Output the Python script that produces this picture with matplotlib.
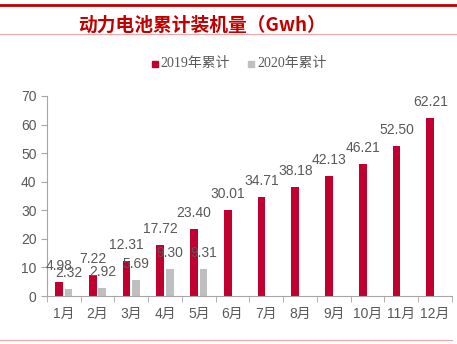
import matplotlib
matplotlib.use('Agg')
import matplotlib.pyplot as plt
import numpy as np

months = ['1月', '2月', '3月', '4月', '5月', '6月', '7月', '8月', '9月', '10月', '11月', '12月']
cum_2019 = [4.98, 7.22, 12.31, 17.72, 23.40, 30.01, 34.71, 38.18, 42.13, 46.21, 52.50, 62.21]
cum_2020 = [2.32, 2.92, 5.69, 9.30, 9.31]

red = '#C0002F'
grey = '#BFBFBF'
txt = '#595959'
cjk = ['Liberation Sans', 'Noto Sans CJK SC']

fig = plt.figure(figsize=(4.57, 3.44), dpi=100)
ax = fig.add_axes([0.1028, 0.1395, 0.886, 0.5815])

x = np.arange(len(months))
w = 0.23
gap = 0.05
b1 = ax.bar(x - (w + gap) / 2, cum_2019, w, color=red)
b2 = ax.bar(x[:len(cum_2020)] + (w + gap) / 2, cum_2020, w, color=grey)

for bars, vals in [(b1, cum_2019), (b2, cum_2020)]:
    for b, v in zip(bars, vals):
        ax.annotate('%.2f' % v, (b.get_x() + b.get_width() / 2, v),
                    xytext=(0, 9), textcoords='offset pixels',
                    ha='center', va='bottom', fontsize=10, color=txt,
                    family='Liberation Sans')

ax.set_xlim(-0.5, len(months) - 0.5)
ax.set_ylim(0, 70)
ax.set_yticks(range(0, 71, 10))
ax.set_xticks(x)
ax.set_xticklabels(months, family=cjk, fontsize=10, color=txt)
ax.set_xticks(np.arange(-0.5, len(months), 1), minor=True)
ax.tick_params(axis='x', which='major', length=0, pad=8)
ax.tick_params(axis='x', which='minor', length=4, color='#A6A6A6', direction='out')
ax.tick_params(axis='y', length=4, color='#A6A6A6', labelcolor=txt, labelsize=10)
for lab in ax.get_yticklabels():
    lab.set_family('Liberation Sans')
for s in ['top', 'right']:
    ax.spines[s].set_visible(False)
ax.spines['left'].set_color('#A6A6A6')
ax.spines['bottom'].set_color('#A6A6A6')

# legend
leg_font = ['Liberation Serif', 'Noto Sans CJK SC']
fig.patches.append(plt.Rectangle((152 / 457, 1 - 67 / 344), 6 / 457, 6 / 344,
                                 transform=fig.transFigure, color=red))
fig.text(160 / 457, 1 - 63 / 344, '2019年累计', family=leg_font, fontsize=10,
         color=txt, va='center', ha='left')
fig.patches.append(plt.Rectangle((248 / 457, 1 - 67 / 344), 6 / 457, 6 / 344,
                                 transform=fig.transFigure, color=grey))
fig.text(257 / 457, 1 - 63 / 344, '2020年累计', family=leg_font, fontsize=10,
         color=txt, va='center', ha='left')

# title and decorative lines
fig.text(78 / 457, 1 - 25 / 344, '动力电池累计装机量（Gwh）', family=['Noto Sans CJK SC'],
         fontsize=13.5, fontweight='bold', style='italic', color='#C00000',
         va='center', ha='left')
fig.add_artist(plt.Line2D([0, 1], [1 - 5 / 344] * 2, color='#C00000', lw=2,
                          transform=fig.transFigure))
fig.add_artist(plt.Line2D([0, 0.997], [1 - 34 / 344] * 2, color='#F4A6A6', lw=0.8,
                          transform=fig.transFigure))
fig.add_artist(plt.Line2D([0, 0.99], [1 - 339.5 / 344] * 2, color='#F4A6A6', lw=0.8,
                          transform=fig.transFigure))

fig.savefig('out.png', dpi=100)
